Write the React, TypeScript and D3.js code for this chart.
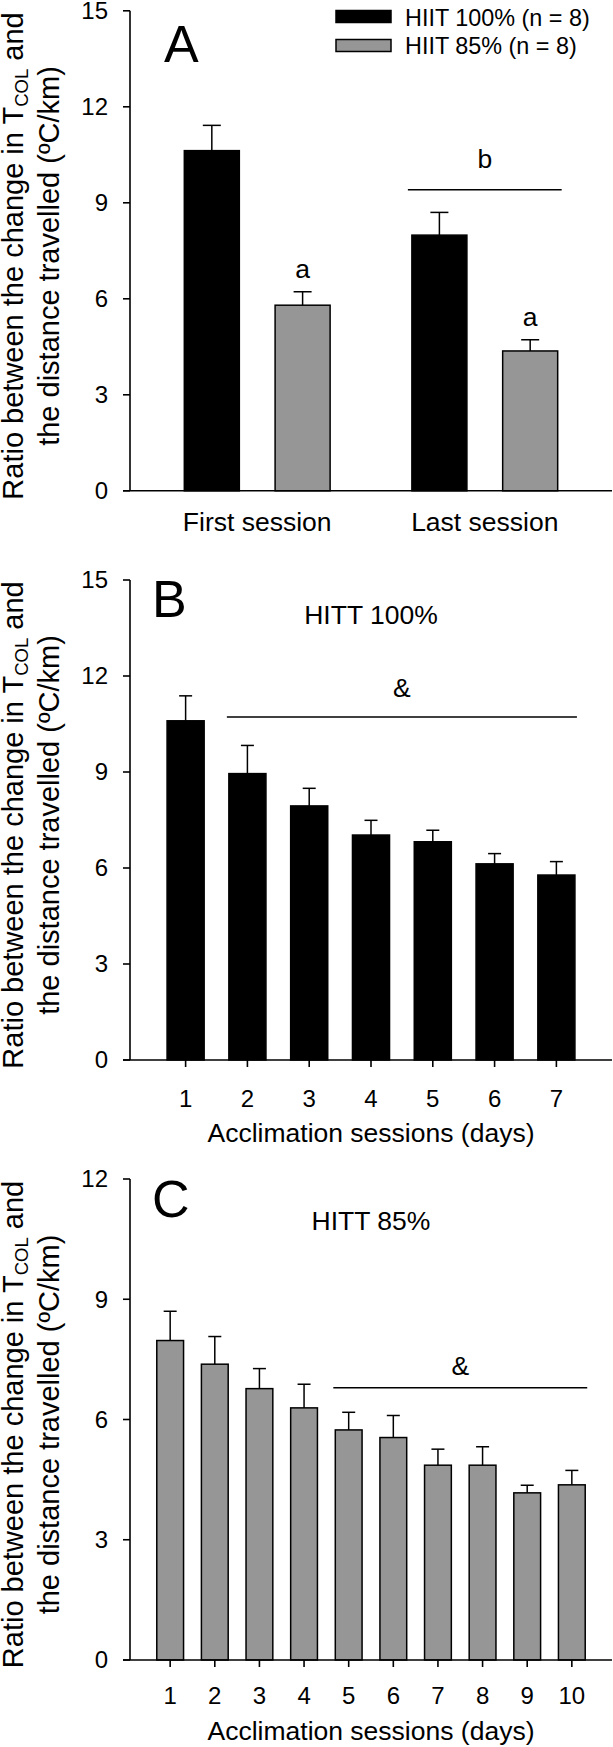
import React from 'react';
import * as d3 from 'd3';

const FONT = '"Liberation Sans", Arial, Helvetica, sans-serif';
const GRAY = '#969696';

// ---------- Panel A ----------
const groupsA = ['First session', 'Last session'];
const seriesA = ['HIIT 100% (n = 8)', 'HIIT 85% (n = 8)'];
const meanA100 = [10.63, 7.99];
const semA100 = [0.79, 0.71];
const meanA85 = [5.8, 4.37];
const semA85 = [0.42, 0.35];
const lettersA85 = ['a', 'a'];
const sigA = { label: 'b', group: 'Last session', value: 9.41 };
const ticksAB = [0, 3, 6, 9, 12, 15];

// ---------- Panel B ----------
const sessionsB = ['1', '2', '3', '4', '5', '6', '7'];
const meanB = [10.6, 8.95, 7.94, 7.03, 6.82, 6.13, 5.78];
const semB = [0.78, 0.88, 0.55, 0.46, 0.36, 0.32, 0.42];
const sigB = { label: '&', from: '2', to: '7', value: 10.72 };

// ---------- Panel C ----------
const sessionsC = ['1', '2', '3', '4', '5', '6', '7', '8', '9', '10'];
const meanC = [7.97, 7.38, 6.77, 6.29, 5.74, 5.55, 4.86, 4.86, 4.17, 4.37];
const semC = [0.73, 0.69, 0.5, 0.59, 0.44, 0.55, 0.4, 0.46, 0.19, 0.36];
const sigC = { label: '&', from: '5', to: '10', value: 6.79 };
const ticksC = [0, 3, 6, 9, 12];

const X0 = 130;
const X1 = 612;

function YAxis({ y, ticks }: { y: d3.ScaleLinear<number, number>; ticks: number[] }) {
  const [lo, hi] = y.domain();
  return (
    <g>
      <line x1={X0} x2={X0} y1={y(hi)} y2={y(lo)} stroke="#000" strokeWidth={1.6} />
      {ticks.map((t) => (
        <g key={t}>
          <line x1={X0 - 7} x2={X0} y1={y(t)} y2={y(t)} stroke="#000" strokeWidth={1.6} />
          <text x={108} y={y(t)} dy="0.35em" textAnchor="end" fontSize={24}>
            {t}
          </text>
        </g>
      ))}
    </g>
  );
}

function YTitle({ cy }: { cy: number }) {
  return (
    <g fontSize={29}>
      <text transform={`translate(22.5, ${cy}) rotate(-90)`} textAnchor="middle">
        Ratio between the change in T
        <tspan fontSize={18.5} dy={5.5}>
          COL
        </tspan>
        <tspan dy={-5.5}> and</tspan>
      </text>
      <text transform={`translate(59, ${cy}) rotate(-90)`} textAnchor="middle">
        the distance travelled (ºC/km)
      </text>
    </g>
  );
}

function ErrBar({ cx, yTop, yMean, cap }: { cx: number; yTop: number; yMean: number; cap: number }) {
  return (
    <g stroke="#000" strokeWidth={1.5}>
      <line x1={cx} x2={cx} y1={yMean} y2={yTop} />
      <line x1={cx - cap} x2={cx + cap} y1={yTop} y2={yTop} />
    </g>
  );
}

function PanelA() {
  const y = d3.scaleLinear().domain([0, 15]).range([490.8, 10.8]);
  const gx = d3.scalePoint<string>().domain(groupsA).range([X0, X1]).padding(0.559);
  const sx = d3.scaleBand<string>().domain(seriesA).range([-72.9, 72.9]).paddingInner(0.394);
  const fills = ['#000', GRAY];
  const means = [meanA100, meanA85];
  const sems = [semA100, semA85];
  const bw = sx.bandwidth();
  const sigX1 = (gx(sigA.group) as number) + (sx(seriesA[0]) as number) - 4;
  const sigX2 = (gx(sigA.group) as number) + (sx(seriesA[1]) as number) + bw + 4;
  return (
    <g>
      {seriesA.map((s, si) =>
        groupsA.map((g, gi) => {
          const x = (gx(g) as number) + (sx(s) as number);
          const m = means[si][gi];
          return (
            <g key={s + g}>
              <ErrBar cx={x + bw / 2} yMean={y(m)} yTop={y(m + sems[si][gi])} cap={9} />
              <rect x={x} y={y(m)} width={bw} height={y(0) - y(m)} fill={fills[si]} stroke="#000" strokeWidth={1.5} />
            </g>
          );
        })
      )}
      {groupsA.map((g, gi) => {
        const x = (gx(g) as number) + (sx(seriesA[1]) as number) + bw / 2;
        return (
          <text key={g} x={x} y={y(meanA85[gi] + semA85[gi]) - 14} textAnchor="middle" fontSize={26.5}>
            {lettersA85[gi]}
          </text>
        );
      })}
      <line x1={sigX1} x2={sigX2} y1={y(sigA.value)} y2={y(sigA.value)} stroke="#000" strokeWidth={1.5} />
      <text x={(sigX1 + sigX2) / 2} y={y(sigA.value) - 21.6} textAnchor="middle" fontSize={26.5}>
        {sigA.label}
      </text>
      <line x1={X0 - 7} x2={X1} y1={y(0)} y2={y(0)} stroke="#000" strokeWidth={1.6} />
      <YAxis y={y} ticks={ticksAB} />
      {groupsA.map((g) => (
        <text key={g} x={gx(g)} y={531} textAnchor="middle" fontSize={26.5}>
          {g}
        </text>
      ))}
      <text x={164} y={62.4} fontSize={52}>
        A
      </text>
      {seriesA.map((s, si) => (
        <g key={s}>
          <rect x={336} y={10.5 + si * 29} width={55} height={12} fill={fills[si]} stroke="#000" strokeWidth={1.5} />
          <text x={405} y={26 + si * 27.5} fontSize={23.4}>
            {s}
          </text>
        </g>
      ))}
      <YTitle cy={256} />
    </g>
  );
}

function SessionPanel({
  sessions,
  means,
  sems,
  sig,
  ticks,
  yMax,
  yTopPx,
  y0Px,
  fill,
  letter,
  letterY,
  header,
  headerY,
  sigGap,
  tickLabelY,
  titleY,
}: any) {
  const y = d3.scaleLinear().domain([0, yMax]).range([y0Px, yTopPx]);
  const x = d3.scaleBand<string>().domain(sessions).range([X0, X1]).paddingInner(0.4).paddingOuter(0.6);
  const bw = x.bandwidth();
  const sx1 = (x(sig.from) as number) - 2;
  const sx2 = (x(sig.to) as number) + bw + 2;
  return (
    <g>
      {sessions.map((s: string, i: number) => {
        const bx = x(s) as number;
        return (
          <g key={s}>
            <ErrBar cx={bx + bw / 2} yMean={y(means[i])} yTop={y(means[i] + sems[i])} cap={6.5} />
            <rect x={bx} y={y(means[i])} width={bw} height={y(0) - y(means[i])} fill={fill} stroke="#000" strokeWidth={1.5} />
          </g>
        );
      })}
      <line x1={sx1} x2={sx2} y1={y(sig.value)} y2={y(sig.value)} stroke="#000" strokeWidth={1.5} />
      <text x={(sx1 + sx2) / 2} y={y(sig.value) - sigGap} textAnchor="middle" fontSize={26.5}>
        {sig.label}
      </text>
      <line x1={X0 - 7} x2={X1} y1={y(0)} y2={y(0)} stroke="#000" strokeWidth={1.6} />
      {sessions.map((s: string) => (
        <g key={s}>
          <line
            x1={(x(s) as number) + bw / 2}
            x2={(x(s) as number) + bw / 2}
            y1={y(0)}
            y2={y(0) + 7}
            stroke="#000"
            strokeWidth={1.6}
          />
          <text x={(x(s) as number) + bw / 2} y={tickLabelY} textAnchor="middle" fontSize={24}>
            {s}
          </text>
        </g>
      ))}
      <YAxis y={y} ticks={ticks} />
      <text x={(X0 + X1) / 2} y={titleY} textAnchor="middle" fontSize={26.5}>
        Acclimation sessions (days)
      </text>
      <text x={152} y={letterY} fontSize={52}>
        {letter}
      </text>
      <text x={(X0 + X1) / 2} y={headerY} textAnchor="middle" fontSize={26.5}>
        {header}
      </text>
      <YTitle cy={(yTopPx + y0Px) / 2 + 5} />
    </g>
  );
}

export default function App() {
  return (
    <svg
      width={613}
      height={1747}
      style={{ position: 'absolute', left: 0, top: 0, background: '#fff' }}
      fontFamily={FONT}
    >
      <rect x={0} y={0} width={613} height={1747} fill="#fff" />
      <PanelA />
      <SessionPanel
        sessions={sessionsB}
        means={meanB}
        sems={semB}
        sig={sigB}
        ticks={ticksAB}
        yMax={15}
        yTopPx={580}
        y0Px={1060}
        fill="#000"
        letter="B"
        letterY={616.7}
        header="HITT 100%"
        headerY={624}
        sigGap={19.5}
        tickLabelY={1106.7}
        titleY={1141.7}
      />
      <SessionPanel
        sessions={sessionsC}
        means={meanC}
        sems={semC}
        sig={sigC}
        ticks={ticksC}
        yMax={12}
        yTopPx={1179}
        y0Px={1660}
        fill={GRAY}
        letter="C"
        letterY={1216.8}
        header="HITT 85%"
        headerY={1229.6}
        sigGap={13}
        tickLabelY={1703.7}
        titleY={1740.3}
      />
    </svg>
  );
}
